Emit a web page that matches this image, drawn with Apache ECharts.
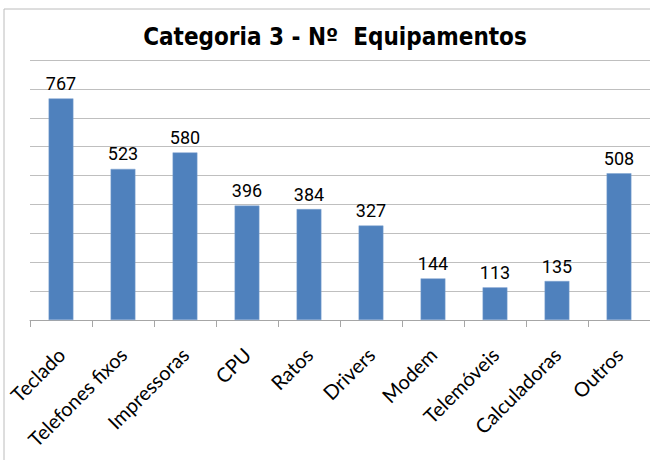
<!DOCTYPE html>
<html>
<head>
<meta charset="utf-8">
<script src="https://cdn.jsdelivr.net/npm/echarts@6/dist/echarts.min.js"></script>
<style>
  html, body { margin: 0; padding: 0; background: #fff; }
  #chart { width: 650px; height: 460px; }
</style>
</head>
<body>
<div id="chart"></div>
<script>
(function() {
  var categories = ['Teclado', 'Telefones fixos', 'Impressoras', 'CPU', 'Ratos', 'Drivers', 'Modem', 'Telemóveis', 'Calculadoras', 'Outros'];
  var values = [767, 523, 580, 396, 384, 327, 144, 113, 135, 508];
  var yMin = 0, yMax = 900, yStep = 100;

  var blue = '#4f81bd';
  var rule = '#bfbfbf';

  var chart = echarts.init(document.getElementById('chart'), null, { renderer: 'svg' });
  chart.setOption({
    animation: false,
    title: {
      text: 'Categoria 3 - Nº  Equipamentos',
      left: 330,
      textAlign: 'center',
      top: 20,
      textStyle: {
        fontFamily: '"Liberation Sans Narrow", "DejaVu Sans Condensed", sans-serif',
        fontSize: 24,
        fontWeight: 'bold',
        color: '#000'
      }
    },
    graphic: [{
      type: 'rect',
      shape: { x: 4, y: 9, width: 700, height: 500 },
      style: { fill: 'none', stroke: '#bcbcbc', lineWidth: 1 },
      silent: true
    }],
    grid: { left: 30, right: 0, top: 60, bottom: 140 },
    xAxis: {
      type: 'category',
      data: categories,
      axisLine: { lineStyle: { color: '#a6a6a6' } },
      axisTick: { show: true, length: 7, lineStyle: { color: '#a6a6a6' } },
      axisLabel: {
        interval: 0,
        rotate: 45,
        margin: 31,
        color: '#000',
        fontSize: 20,
        fontFamily: 'Lato, sans-serif'
      }
    },
    yAxis: {
      type: 'value',
      min: yMin,
      max: yMax,
      interval: yStep,
      axisLine: { show: false },
      axisTick: { show: false },
      axisLabel: { show: false },
      splitLine: { lineStyle: { color: rule } }
    },
    series: [{
      type: 'bar',
      data: values,
      barWidth: '40%',
      itemStyle: { color: blue, borderColor: '#7fa3d0', borderWidth: 0.5 },
      label: {
        show: true,
        position: 'top',
        distance: 6,
        color: '#000',
        fontSize: 18,
        fontFamily: 'Roboto, sans-serif'
      }
    }]
  });
})();
</script>
</body>
</html>
